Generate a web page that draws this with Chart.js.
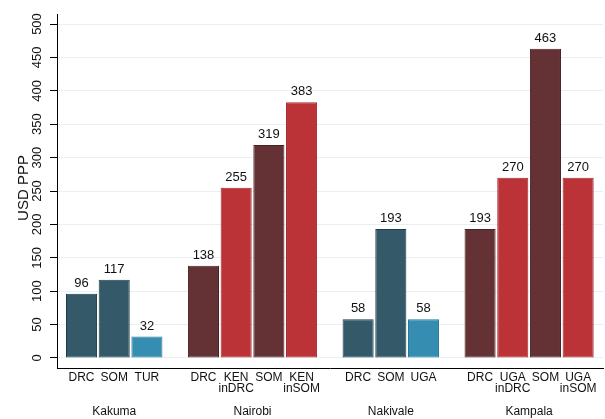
<!DOCTYPE html>
<html lang="en">
<head>
<meta charset="UTF-8">
<title>USD PPP</title>
<style>
    html, body { margin: 0; padding: 0; background: #fff; }
    canvas { display: block; }
</style>
<script src="https://cdn.jsdelivr.net/npm/chart.js"></script>
</head>
<body>
<canvas id="grafico" width="605" height="419"></canvas>
<script>
    // groups along the x axis
    const groups = ['Kakuma', 'Nairobi', 'Nakivale', 'Kampala'];
    const groupLabels = [
        ['DRC', 'SOM', 'TUR'],
        ['DRC', ['KEN', 'inDRC'], 'SOM', ['KEN', 'inSOM']],
        ['DRC', 'SOM', 'UGA'],
        ['DRC', ['UGA', 'inDRC'], 'SOM', ['UGA', 'inSOM']]
    ];
    const groupValues = [
        [96, 117, 32],
        [138, 255, 319, 383],
        [58, 193, 58],
        [193, 270, 463, 270]
    ];
    // kind of each bar: refugee / host, in camp or city
    const groupKinds = [
        ['campRef', 'campRef', 'campHost'],
        ['cityRef', 'cityHost', 'cityRef', 'cityHost'],
        ['campRef', 'campRef', 'campHost'],
        ['cityRef', 'cityHost', 'cityRef', 'cityHost']
    ];
    const yTicks = [0, 50, 100, 150, 200, 250, 300, 350, 400, 450, 500];
    const yTitle = 'USD PPP';

    const fills = { campRef: '#345a69', campHost: '#358eb1', cityRef: '#643234', cityHost: '#bb3336' };
    const borders = { campRef: '#1f3c48', campHost: '#2a7898', cityRef: '#4a2224', cityHost: '#a2282c' };
    const FONT = '"Liberation Sans", Arial, Helvetica, sans-serif';
    const GAP = 0.73;

    const positions = [], labels = [], values = [], bg = [], bc = [], centers = [];
    let pos = 0;
    groupValues.forEach((vals, g) => {
        const start = pos;
        vals.forEach((v, i) => {
            positions.push(pos);
            labels.push(groupLabels[g][i]);
            values.push(v);
            bg.push(fills[groupKinds[g][i]]);
            bc.push(borders[groupKinds[g][i]]);
            pos += 1;
        });
        centers.push((start + pos - 1) / 2);
        pos += GAP;
    });

    const extras = {
        id: 'extras',
        afterDraw(chart) {
            const ctx = chart.ctx;
            const x = chart.scales.x, y = chart.scales.y;
            ctx.save();
            ctx.fillStyle = '#111';

            // rotated y tick labels
            ctx.font = '13px ' + FONT;
            ctx.textAlign = 'center';
            ctx.textBaseline = 'alphabetic';
            yTicks.forEach(t => {
                ctx.save();
                ctx.translate(41, y.getPixelForValue(t));
                ctx.rotate(-Math.PI / 2);
                ctx.fillText(String(t), 0, 0);
                ctx.restore();
            });

            // y title
            ctx.save();
            ctx.font = '15px ' + FONT;
            ctx.translate(27.5, 188);
            ctx.rotate(-Math.PI / 2);
            ctx.fillText(yTitle, 0, 0);
            ctx.restore();

            // value labels
            ctx.font = '13px ' + FONT;
            const meta = chart.getDatasetMeta(0);
            meta.data.forEach((el, i) => {
                ctx.fillText(String(values[i]), el.x, el.y - 7);
            });

            // group names
            ctx.font = '12px ' + FONT;
            centers.forEach((c, g) => {
                ctx.fillText(groups[g], x.getPixelForValue(c), 415);
            });
            ctx.restore();
        }
    };

    new Chart(document.getElementById('grafico'), {
        type: 'bar',
        data: {
            datasets: [{
                data: positions.map((p, i) => ({ x: p, y: values[i] })),
                backgroundColor: bg,
                borderColor: bc,
                borderWidth: 1,
                borderSkipped: false,
                barPercentage: 0.95,
                categoryPercentage: 1
            }]
        },
        options: {
            responsive: false,
            animation: false,
            layout: { padding: { top: 14, right: 2, left: 0, bottom: 0 } },
            plugins: { legend: { display: false }, tooltip: { enabled: false } },
            scales: {
                x: {
                    type: 'linear',
                    offset: false,
                    min: -0.75,
                    max: 15.95,
                    afterBuildTicks: s => { s.ticks = positions.map(v => ({ value: v })); },
                    afterFit: s => { s.height = 51; },
                    ticks: {
                        autoSkip: false,
                        maxRotation: 0,
                        minRotation: 0,
                        padding: 4,
                        color: '#111',
                        font: { family: FONT, size: 12, lineHeight: 0.95 },
                        callback: (v, i) => labels[i]
                    },
                    grid: { display: false, drawTicks: false },
                    border: { display: true, color: '#000', width: 1 }
                },
                y: {
                    min: -15,
                    max: 515,
                    afterBuildTicks: s => { s.ticks = yTicks.map(v => ({ value: v })); },
                    afterFit: s => { s.width = 57; },
                    ticks: { display: false },
                    grid: { color: '#e8f0f2', lineWidth: 1, drawTicks: true, tickLength: 7, tickColor: '#000' },
                    border: { display: true, color: '#000', width: 1 }
                }
            }
        },
        plugins: [extras]
    });
</script>
</body>
</html>
